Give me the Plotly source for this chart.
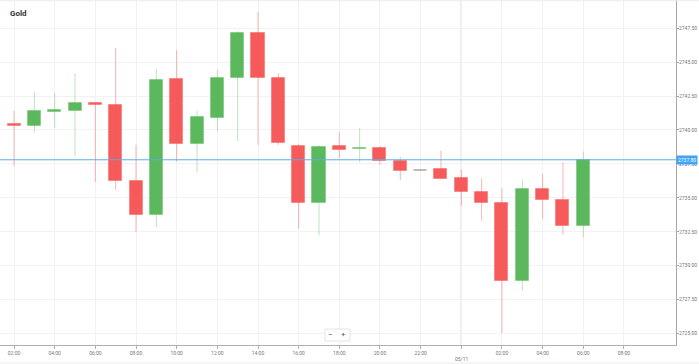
import plotly.graph_objects as go
import pandas as pd

# ---- data (hourly OHLC, Gold) ----
times = [
    "2024-11-04 01:00", "2024-11-04 02:00", "2024-11-04 03:00", "2024-11-04 04:00",
    "2024-11-04 05:00", "2024-11-04 06:00", "2024-11-04 07:00", "2024-11-04 08:00",
    "2024-11-04 09:00", "2024-11-04 10:00", "2024-11-04 11:00", "2024-11-04 12:00",
    "2024-11-04 13:00", "2024-11-04 14:00", "2024-11-04 15:00", "2024-11-04 16:00",
    "2024-11-04 17:00", "2024-11-04 18:00", "2024-11-04 19:00", "2024-11-04 20:00",
    "2024-11-04 21:00", "2024-11-04 22:00", "2024-11-04 23:00", "2024-11-05 00:00",
    "2024-11-05 01:00", "2024-11-05 02:00", "2024-11-05 03:00", "2024-11-05 04:00",
    "2024-11-05 05:00", "2024-11-05 06:00",
]
opens = [2740.75, 2740.42, 2740.30, 2741.33, 2741.43, 2741.97, 2741.81, 2736.23,
         2733.70, 2743.76, 2738.97, 2740.90, 2743.85, 2747.17, 2743.85, 2738.80,
         2734.60, 2738.80, 2738.60, 2738.67, 2737.71, 2736.95, 2737.10, 2736.48,
         2735.44, 2734.63, 2728.84, 2735.62, 2734.83, 2732.91]
highs = [2741.20, 2741.43, 2742.83, 2742.72, 2744.19, 2742.05, 2746.06, 2738.90,
         2744.49, 2745.90, 2741.41, 2744.44, 2747.30, 2748.73, 2744.20, 2738.95,
         2738.90, 2739.86, 2740.15, 2738.80, 2738.00, 2736.95, 2738.47, 2737.05,
         2736.43, 2735.69, 2736.36, 2736.75, 2737.62, 2738.40]
lows = [2740.00, 2737.34, 2739.80, 2740.13, 2738.08, 2736.16, 2735.57, 2732.46,
        2732.83, 2737.66, 2736.88, 2739.93, 2739.19, 2738.90, 2738.90, 2732.70,
        2732.20, 2737.90, 2737.60, 2737.40, 2736.31, 2736.95, 2736.38, 2734.39,
        2733.30, 2725.00, 2728.10, 2733.43, 2732.29, 2732.07]
closes = [2740.40, 2740.32, 2741.43, 2741.48, 2742.02, 2741.82, 2736.23, 2733.70,
          2743.68, 2738.97, 2740.99, 2743.82, 2747.17, 2743.85, 2739.04, 2734.60,
          2738.75, 2738.55, 2738.70, 2737.71, 2736.97, 2736.95, 2736.38, 2735.44,
          2734.61, 2728.84, 2735.62, 2734.83, 2732.91, 2737.80]
last_price = 2737.80
y_ticks = [2725.0, 2727.5, 2730.0, 2732.5, 2735.0, 2737.5, 2740.0, 2742.5, 2745.0, 2747.5]
x_ticks = ["2024-11-04 02:00", "2024-11-04 04:00", "2024-11-04 06:00", "2024-11-04 08:00",
           "2024-11-04 10:00", "2024-11-04 12:00", "2024-11-04 14:00", "2024-11-04 16:00",
           "2024-11-04 18:00", "2024-11-04 20:00", "2024-11-04 22:00", "2024-11-05 00:00",
           "2024-11-05 02:00", "2024-11-05 04:00", "2024-11-05 06:00", "2024-11-05 08:00"]
x_tick_text = ["02:00", "04:00", "06:00", "08:00", "10:00", "12:00", "14:00", "16:00",
               "18:00", "20:00", "22:00", "", "02:00", "04:00", "06:00", "08:00"]

GREEN = "#5cb85c"
RED = "#f65a5a"
GRAY = "#777777"
GREEN_L = "rgba(92,184,92,0.40)"
RED_L = "rgba(246,90,90,0.45)"

t = pd.to_datetime(times)

fig = go.Figure()

# wicks
for col, light in ((GREEN, GREEN_L), (RED, RED_L)):
    xs, ys = [], []
    for ti, o, h, l, c in zip(t, opens, highs, lows, closes):
        if (col == GREEN and c > o) or (col == RED and c < o):
            xs += [ti, ti, None]
            ys += [l, h, None]
    fig.add_trace(go.Scatter(x=xs, y=ys, mode="lines", line=dict(color=light, width=1),
                             hoverinfo="skip", showlegend=False))

# bodies
base = [min(o, c) for o, c in zip(opens, closes)]
height = [max(abs(c - o), 0.07) for o, c in zip(opens, closes)]
fill = [GREEN if c > o else (RED if c < o else GRAY) for o, c in zip(opens, closes)]
edge = [GREEN_L if c > o else (RED_L if c < o else "rgba(0,0,0,0)") for o, c in zip(opens, closes)]
fig.add_trace(go.Bar(x=t, y=height, base=base, width=0.64 * 3600 * 1000,
                     marker=dict(color=fill, line=dict(color=edge, width=1)),
                     showlegend=False))

annotations = [
    dict(text="<b>Gold</b>", xref="paper", yref="paper", x=0.0118, y=0.962,
         xanchor="left", yanchor="middle", showarrow=False,
         font=dict(size=8, color="#333333")),
]
# y-axis labels (right side, tight to the axis)
for v in y_ticks:
    annotations.append(dict(text=f"{v:.2f}", xref="paper", yref="y", x=1.0, y=v,
                            xanchor="left", yanchor="middle", xshift=1, showarrow=False,
                            font=dict(size=5, color="#777777")))
annotations += [
    dict(text="2737.80", xref="paper", yref="y", x=1.0, y=last_price,
         xanchor="left", yanchor="middle", showarrow=False,
         bgcolor="#3da5f4", borderpad=1, font=dict(size=5, color="white")),
    dict(text="05/11", xref="x", yref="paper", x="2024-11-05 00:00", y=0,
         xanchor="center", yanchor="top", yshift=-9, showarrow=False,
         font=dict(size=5, color="#777777")),
    dict(text="−", xref="paper", yref="paper", x=0.4896, y=0.029,
         xanchor="center", yanchor="middle", showarrow=False,
         font=dict(size=8, color="#555555")),
    dict(text="+", xref="paper", yref="paper", x=0.5074, y=0.029,
         xanchor="center", yanchor="middle", showarrow=False,
         font=dict(size=8, color="#555555")),
]

fig.update_layout(
    width=699, height=364,
    margin=dict(l=0, r=23, t=0, b=19),
    paper_bgcolor="white", plot_bgcolor="white",
    font=dict(family="Roboto, Arial, sans-serif", size=5, color="#777777"),
    bargap=0,
    xaxis=dict(type="date",
               range=["2024-11-04 01:18:36", "2024-11-05 10:33:36"],
               tickvals=x_ticks, ticktext=x_tick_text,
               showgrid=True, gridcolor="#f2f2f2", gridwidth=1,
               showline=True, linecolor="#b0b0b0", linewidth=1,
               ticks="outside", ticklen=3, tickcolor="#b0b0b0",
               tickfont=dict(size=5, color="#777777"), zeroline=False),
    yaxis=dict(side="right", range=[2724.12, 2749.6],
               tickvals=y_ticks, showticklabels=False,
               showgrid=True, gridcolor="#f2f2f2", gridwidth=1,
               showline=True, linecolor="#a8a8a8", linewidth=1,
               ticks="outside", ticklen=2, tickcolor="#a8a8a8", zeroline=False),
    shapes=[
        dict(type="line", xref="x", yref="paper", x0="2024-11-05 00:00", x1="2024-11-05 00:00",
             y0=0, y1=1, line=dict(color="#d8d8d8", width=1.5), layer="below"),
        dict(type="line", xref="paper", yref="y", x0=0, x1=1, y0=last_price, y1=last_price,
             line=dict(color="#5aaee8", width=1)),
        dict(type="rect", xref="paper", yref="paper", x0=0.4808, x1=0.5178, y0=0.0116, y1=0.0464,
             line=dict(color="#e4e4e4", width=1), fillcolor="white"),
        dict(type="line", xref="paper", yref="paper", x0=0, x1=1.034, y0=-0.0522, y1=-0.0522,
             line=dict(color="#ececec", width=1)),
        dict(type="line", xref="paper", yref="paper", x0=0, x1=1.034, y0=0.998, y1=0.998,
             line=dict(color="#ececec", width=1)),
    ],
    annotations=annotations,
)

fig.write_html("out.html", config={"displayModeBar": False},
               post_script="document.body.style.margin='0';document.body.style.padding='0';")
